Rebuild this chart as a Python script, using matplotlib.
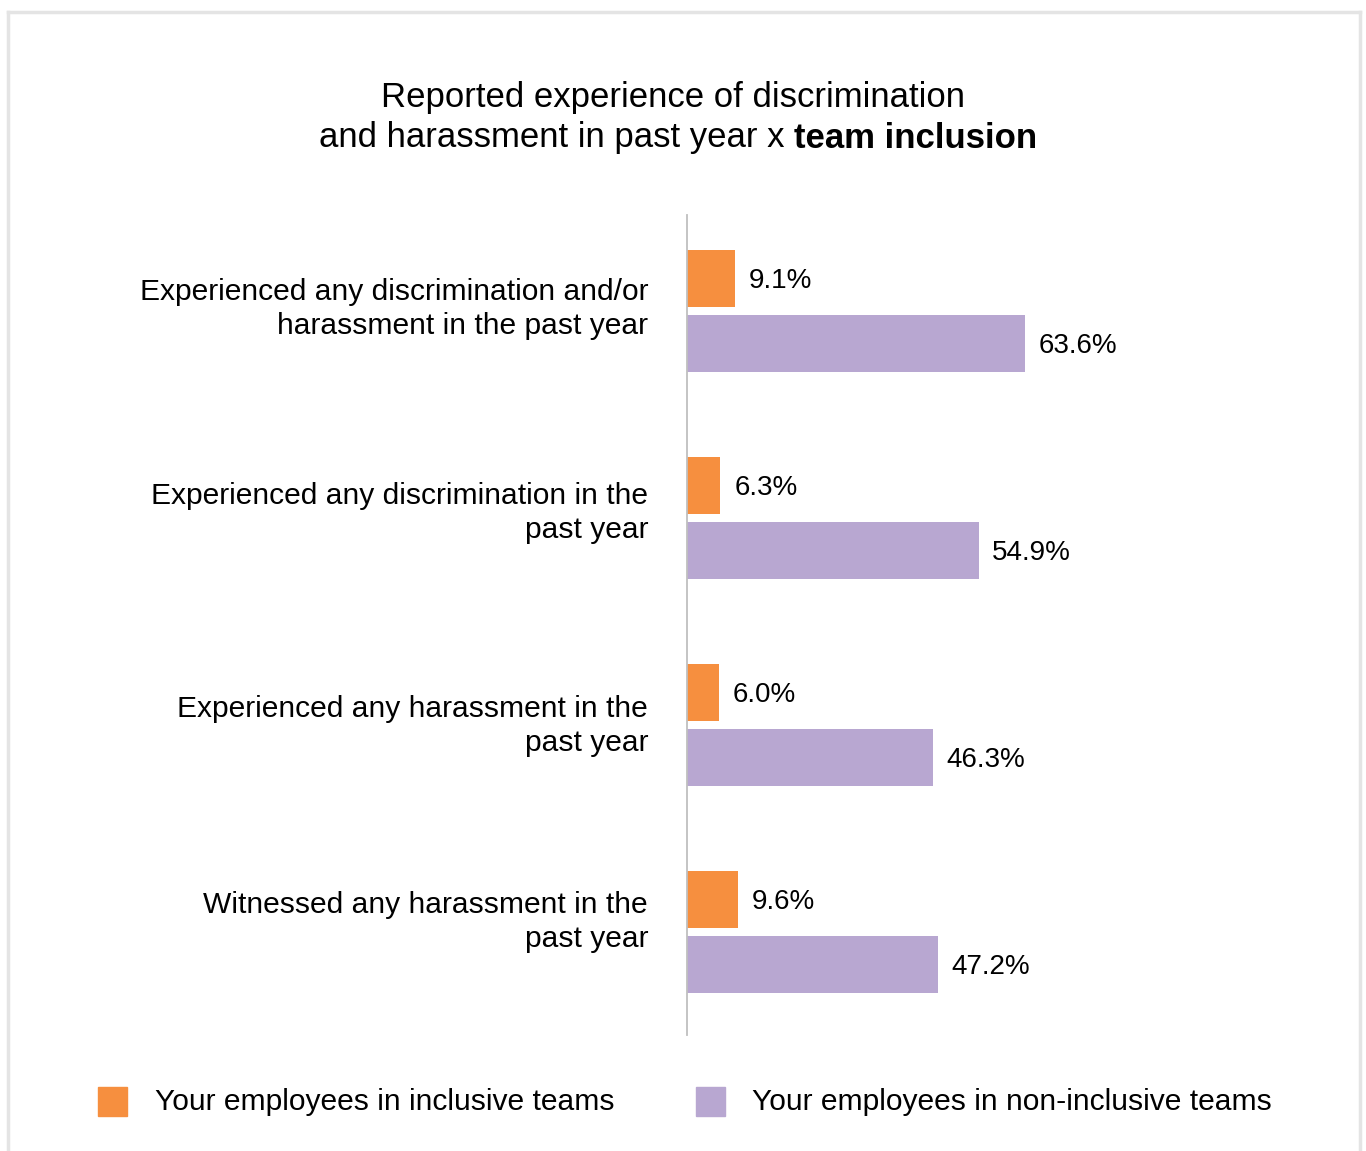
import matplotlib.pyplot as plt
from matplotlib.lines import Line2D
from matplotlib.patches import Rectangle

plt.rcParams['font.family'] = ['Liberation Sans', 'DejaVu Sans']

categories = [
    "Experienced any discrimination and/or\nharassment in the past year",
    "Experienced any discrimination in the\npast year",
    "Experienced any harassment in the\npast year",
    "Witnessed any harassment in the\npast year",
]
inclusive = [9.1, 6.3, 6.0, 9.6]
non_inclusive = [63.6, 54.9, 46.3, 47.2]
series_names = ["Your employees in inclusive teams", "Your employees in non-inclusive teams"]

orange = '#F68F3F'
purple = '#B8A7D1'

W, H = 1366, 1151
fig = plt.figure(figsize=(W / 100, H / 100), dpi=100)

# light frame around the card (top, left, right)
for xs, ys in [((8, 1360), (12, 12)), ((8, 8), (12, H)), ((1360, 1360), (12, H))]:
    fig.add_artist(Line2D([x / W for x in xs], [1 - y / H for y in ys],
                          color='#E4E4E4', lw=2.5, transform=fig.transFigure))

ax = fig.add_axes([687 / W, 1 - 1035 / H, 531 / W, 820 / H])
ax.set_xlim(0, 100)
ax.set_ylim(3.497, -0.464)

ypos = list(range(len(categories)))
off = 0.157
bh = 0.272
ax.barh([y - off for y in ypos], inclusive, height=bh, color=orange)
ax.barh([y + off for y in ypos], non_inclusive, height=bh, color=purple)

for y, v in zip(ypos, inclusive):
    ax.text(v + 2.6, y - off + 0.01, f"{v:.1f}%", va='center', ha='left', fontsize=20)
for y, v in zip(ypos, non_inclusive):
    ax.text(v + 2.6, y + off + 0.01, f"{v:.1f}%", va='center', ha='left', fontsize=20)

for s in ['top', 'right', 'bottom']:
    ax.spines[s].set_visible(False)
ax.spines['left'].set_color('#BFBFBF')
ax.spines['left'].set_linewidth(1.3)
ax.set_xticks([])
# category labels sit slightly above the middle of each bar pair
label_nudge = [-0.04, -0.052, -0.027, -0.08]
ax.set_yticks([y + d for y, d in zip(ypos, label_nudge)])
ax.set_yticklabels(categories, fontsize=21.6, linespacing=1.28)
ax.tick_params(axis='y', length=0, pad=28)

# title, second line partly bold
fig.text(673 / W, 1 - 97 / H, "Reported experience of discrimination",
         ha='center', va='center', fontsize=25)
renderer = fig.canvas.get_renderer()
t1 = fig.text(0, 1 - 138 / H, "and harassment in past year x ", ha='left', va='center', fontsize=25)
t2 = fig.text(0, 1 - 138 / H, "team inclusion", ha='left', va='center', fontsize=25, fontweight='bold')
w1 = t1.get_window_extent(renderer).width
w2 = t2.get_window_extent(renderer).width
x0 = 678 - (w1 + w2) / 2
t1.set_x(x0 / W)
t2.set_x((x0 + w1) / W)

# legend
for (sx, tx), name, c in zip([(98, 155), (696, 752)], series_names, [orange, purple]):
    fig.add_artist(Rectangle((sx / W, 1 - 1116 / H), 29 / W, 29 / H, color=c,
                             transform=fig.transFigure))
    fig.text(tx / W, 1 - 1102 / H, name, ha='left', va='center', fontsize=21.6)

fig.savefig('out.png', dpi=100)
